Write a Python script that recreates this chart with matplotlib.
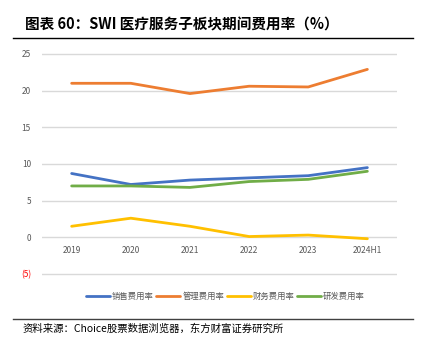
import matplotlib.pyplot as plt

plt.rcParams['font.family'] = ['Noto Sans CJK SC', 'DejaVu Sans']

years = ["2019", "2020", "2021", "2022", "2023", "2024H1"]
sales = [8.7, 7.2, 7.8, 8.1, 8.4, 9.5]
admin = [21.0, 21.0, 19.6, 20.6, 20.5, 22.9]
finance = [1.5, 2.6, 1.5, 0.1, 0.3, -0.2]
rnd = [7.0, 7.0, 6.8, 7.6, 7.9, 9.0]
names = ["销售费用率", "管理费用率", "财务费用率", "研发费用率"]
colors = ["#4472C4", "#ED7D31", "#FFC000", "#70AD47"]

fig = plt.figure(figsize=(4.25, 3.5), dpi=100)
ax = fig.add_axes([0.099, 0.21, 0.835, 0.64])

x = range(len(years))
for vals, name, c in zip([sales, admin, finance, rnd], names, colors):
    ax.plot(x, vals, color=c, lw=2.0, label=name, solid_capstyle='round')

ax.set_xlim(-0.5, 5.5)
ax.set_ylim(-5.35, 25.2)
ax.set_yticks([-5, 0, 5, 10, 15, 20, 25])
ax.set_yticklabels(["(5)", "0", "5", "10", "15", "20", "25"])
ax.tick_params(axis='y', length=0, labelsize=6, labelcolor='#595959', pad=8)
ax.get_yticklabels()[0].set_color('#FF0000')
ax.grid(axis='y', color='#D9D9D9', lw=1)
ax.set_axisbelow(True)
for s in ax.spines.values():
    s.set_visible(False)
ax.set_xticks([])
for i, lab in enumerate(years):
    ax.text(i, -1.2, lab, ha='center', va='top', fontsize=6, color='#595959')

fig.legend(loc='center', bbox_to_anchor=(0.53, 0.154), ncol=4, frameon=False,
           fontsize=6, handlelength=2.9, handletextpad=0.2, columnspacing=0.3,
           labelcolor='#595959')

fig.text(0.058, 0.929, "图表 60：SWI 医疗服务子板块期间费用率（%）", fontsize=10.5,
         fontweight='bold', va='center', ha='left')
fig.add_artist(plt.Line2D([0.03, 0.972], [0.892, 0.892], color='black', lw=1))
fig.add_artist(plt.Line2D([0.03, 0.972], [0.089, 0.089], color='#404040', lw=1))
fig.text(0.054, 0.062, "资料来源：Choice股票数据浏览器，东方财富证券研究所", fontsize=7.5,
         va='center', ha='left')

fig.savefig("out.png", dpi=100)
